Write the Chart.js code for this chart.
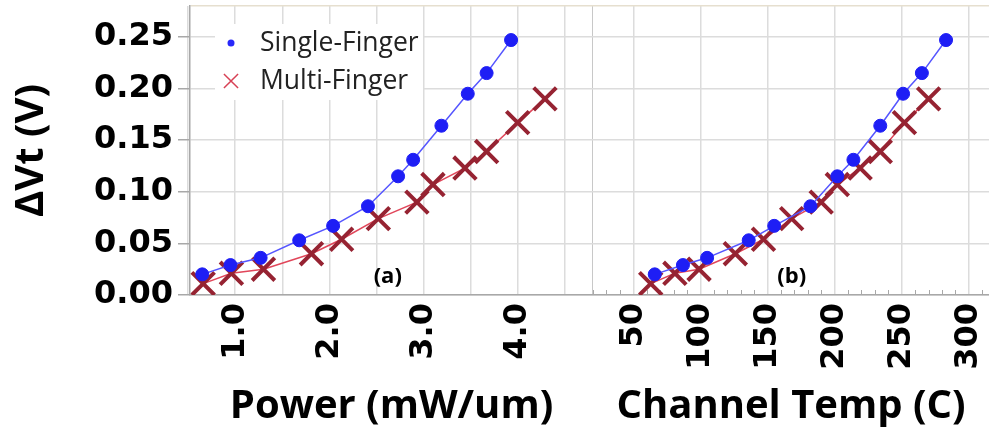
<!DOCTYPE html>
<html>
<head>
<meta charset="utf-8">
<script src="https://cdn.jsdelivr.net/npm/chart.js@4/dist/chart.umd.min.js"></script>
<style>
  body { margin: 0; background: #fff; }
  #wrap { position: relative; width: 989px; height: 431px; }
  #left { position: absolute; left: 0; top: 0; }
  #right { position: absolute; left: 593px; top: 0; }
</style>
</head>
<body>
<div id="wrap">
  <canvas id="left" width="593" height="431"></canvas>
  <canvas id="right" width="396" height="431"></canvas>
</div>
<script>
const seriesNames = ['Single-Finger', 'Multi-Finger'];

// single finger
const singlePower = [0.65, 0.95, 1.27, 1.68, 2.04, 2.41, 2.73, 2.89, 3.19, 3.47, 3.67, 3.93];
const singleTemp = [66, 87, 105, 136, 155, 182, 202, 214, 234, 251, 265, 283];
const singleDvt = [0.020, 0.029, 0.036, 0.053, 0.067, 0.086, 0.115, 0.131, 0.164, 0.195, 0.215, 0.247];

// multi finger
const multiPower = [0.66, 0.96, 1.30, 1.81, 2.13, 2.52, 2.93, 3.10, 3.44, 3.67, 4.00, 4.29];
const multiTemp = [63, 81, 99, 126, 147, 168, 190, 202, 219, 234, 252, 270];
const multiDvt = [0.011, 0.021, 0.025, 0.040, 0.054, 0.074, 0.090, 0.107, 0.123, 0.139, 0.167, 0.190];

const dvtTicks = [0, 0.05, 0.10, 0.15, 0.20, 0.25];
const powerTicks = [1, 2, 3, 4];
const powerGrid = [0.5, 1, 1.5, 2, 2.5, 3, 3.5, 4, 4.5];
const tempTicks = [50, 100, 150, 200, 250, 300];

const tickFont = { family: 'DejaVu Sans', weight: 'bold', size: 32 };
const titleFont = { family: 'Open Sans', weight: 'bold', size: 40, lineHeight: 1.2 };
const gridGray = '#dcdcdc';

function isIn(list, v) {
  return list.some(t => Math.abs(t - v) < 1e-6);
}

function pts(xs, ys) {
  return xs.map((x, i) => ({ x: x, y: ys[i] }));
}

function toTicks(list) {
  return list.map(v => ({ value: v }));
}

// keep the plot area where the layout puts it, no room for end labels
function noPad(s) {
  s.paddingTop = 0;
  s.paddingBottom = 0;
  s.paddingLeft = 0;
  s.paddingRight = 0;
}

function makeSets(xsSingle, xsMulti) {
  return [{
    label: seriesNames[0],
    data: pts(xsSingle, singleDvt),
    showLine: true,
    borderColor: 'rgb(85,85,255)',
    borderWidth: 1.5,
    pointStyle: 'circle',
    pointRadius: 6.5,
    pointBackgroundColor: 'rgb(30,30,245)',
    pointBorderColor: 'rgb(30,30,245)',
    pointBorderWidth: 1,
    legendPoint: { pointStyle: 'circle', radius: 3.5, borderWidth: 0, color: 'rgb(40,40,250)' }
  }, {
    label: seriesNames[1],
    data: pts(xsMulti, multiDvt),
    showLine: true,
    borderColor: 'rgb(225,70,90)',
    borderWidth: 1.5,
    pointStyle: 'crossRot',
    pointRadius: 16,
    pointBorderColor: 'rgb(150,35,50)',
    pointBorderWidth: 4,
    legendPoint: { pointStyle: 'crossRot', radius: 10, borderWidth: 1.5, color: 'rgb(215,65,85)' }
  }];
}

const yMax = 0.28;
const yGrid = {
  color: ctx => isIn(dvtTicks, ctx.tick.value) ? gridGray : '#e6dfcf',
  lineWidth: 1.5
};

// legend drawn inside the plot, on a white box
const insideLegend = {
  id: 'insideLegend',
  beforeDatasetsDraw(chart, args, opts) {
    if (!opts.show) return;
    const { ctx, chartArea } = chart;
    ctx.save();
    ctx.fillStyle = '#fff';
    ctx.fillRect(chartArea.left + 25, chartArea.top + 18, 208, 76);
    ctx.font = '26.5px "Open Sans"';
    ctx.textBaseline = 'middle';
    chart.data.datasets.forEach((ds, i) => {
      const y = chartArea.top + 37 + i * 38;
      const lp = ds.legendPoint;
      ctx.fillStyle = lp.color;
      ctx.strokeStyle = lp.color;
      ctx.lineWidth = lp.borderWidth;
      Chart.helpers.drawPoint(ctx, lp, chartArea.left + 41, y);
      ctx.fillStyle = '#222';
      ctx.fillText(ds.label, chartArea.left + 70, y);
    });
    ctx.restore();
  }
};

const panelLabel = {
  id: 'panelLabel',
  afterDraw(chart, args, opts) {
    const { ctx, scales } = chart;
    ctx.save();
    ctx.font = 'bold 22px "Open Sans"';
    ctx.fillStyle = '#000';
    ctx.textAlign = 'center';
    ctx.textBaseline = 'middle';
    ctx.fillText(opts.text, scales.x.getPixelForValue(opts.x), scales.y.getPixelForValue(opts.y));
    ctx.restore();
  }
};

// small inward ticks between the labelled ones
const minorTicks = {
  id: 'minorTicks',
  beforeDatasetsDraw(chart, args, opts) {
    if (!opts.show) return;
    const { ctx, scales, chartArea } = chart;
    ctx.save();
    ctx.strokeStyle = '#a8a8a8';
    ctx.lineWidth = 1;
    scales.x.ticks.forEach(t => {
      if (isIn(tempTicks, t.value)) return;
      const px = Math.round(scales.x.getPixelForValue(t.value)) + 0.5;
      ctx.beginPath();
      ctx.moveTo(px, chartArea.bottom);
      ctx.lineTo(px, chartArea.bottom - 5);
      ctx.stroke();
    });
    ctx.restore();
  }
};

new Chart(document.getElementById('left'), {
  type: 'scatter',
  data: { datasets: makeSets(singlePower, multiPower) },
  plugins: [insideLegend, panelLabel],
  options: {
    responsive: false,
    animation: false,
    layout: { autoPadding: false, padding: { top: 6, left: 0, right: 0, bottom: 0 } },
    plugins: {
      legend: { display: false },
      tooltip: { enabled: false },
      insideLegend: { show: true },
      panelLabel: { text: '(a)', x: 2.62, y: 0.0175 }
    },
    scales: {
      x: {
        type: 'linear',
        min: 0.52,
        max: 4.8,
        afterBuildTicks: s => { s.ticks = toTicks(powerGrid.concat([4.8])); },
        afterFit: s => { s.height = 136; noPad(s); },
        ticks: {
          autoSkip: false,
          minRotation: 90,
          maxRotation: 90,
          padding: 8,
          color: '#000',
          font: tickFont,
          callback: v => isIn(powerTicks, v) ? v.toFixed(1) : ''
        },
        grid: {
          drawTicks: false,
          color: ctx => ctx.tick.value > 4.75 ? '#c8c8c8' : gridGray,
          lineWidth: ctx => ctx.tick.value > 4.75 ? 2.5 : 1.5
        },
        border: { color: '#a8a8a8', width: 1.5 },
        title: { display: true, text: 'Power (mW/um)', color: '#000', font: titleFont, padding: { top: 0, bottom: 0 } }
      },
      y: {
        min: 0,
        max: yMax,
        afterBuildTicks: s => { s.ticks = toTicks(dvtTicks.concat([yMax])); },
        afterFit: s => { s.width = 190; noPad(s); },
        ticks: {
          autoSkip: false,
          padding: 5,
          color: '#000',
          font: tickFont,
          callback: v => isIn(dvtTicks, v) ? v.toFixed(2) : ''
        },
        grid: Object.assign({ tickLength: 12, tickColor: ctx => isIn(dvtTicks, ctx.tick.value) ? '#a8a8a8' : 'transparent' }, yGrid),
        border: { color: '#a8a8a8', width: 1.5 },
        title: { display: true, text: 'ΔVt (V)', color: '#000', font: titleFont, padding: { top: 8, bottom: 0 } }
      }
    }
  }
});

new Chart(document.getElementById('right'), {
  type: 'scatter',
  data: { datasets: makeSets(singleTemp, multiTemp) },
  plugins: [panelLabel, minorTicks],
  options: {
    responsive: false,
    animation: false,
    layout: { autoPadding: false, padding: { top: 6, left: 0, right: 0, bottom: 0 } },
    plugins: {
      legend: { display: false },
      tooltip: { enabled: false },
      minorTicks: { show: true },
      panelLabel: { text: '(b)', x: 168, y: 0.0175 }
    },
    scales: {
      x: {
        type: 'linear',
        min: 20,
        max: 315,
        ticks: {
          stepSize: 10,
          autoSkip: false,
          includeBounds: false,
          minRotation: 90,
          maxRotation: 90,
          padding: 8,
          color: '#000',
          font: tickFont,
          callback: v => isIn(tempTicks, v) ? String(v) : ''
        },
        afterFit: s => { s.height = 136; noPad(s); },
        grid: {
          drawTicks: false,
          color: ctx => isIn(tempTicks, ctx.tick.value) ? gridGray : 'transparent',
          lineWidth: 1.5
        },
        border: { color: '#a8a8a8', width: 1.5 },
        title: { display: true, text: 'Channel Temp (C)', color: '#000', font: titleFont, padding: { top: 0, bottom: 0 } }
      },
      y: {
        min: 0,
        max: yMax,
        afterBuildTicks: s => { s.ticks = toTicks(dvtTicks.concat([yMax])); },
        afterFit: s => { s.width = 0; noPad(s); },
        ticks: { display: false },
        grid: Object.assign({ drawTicks: false }, yGrid),
        border: { display: false }
      }
    }
  }
});
</script>
</body>
</html>
